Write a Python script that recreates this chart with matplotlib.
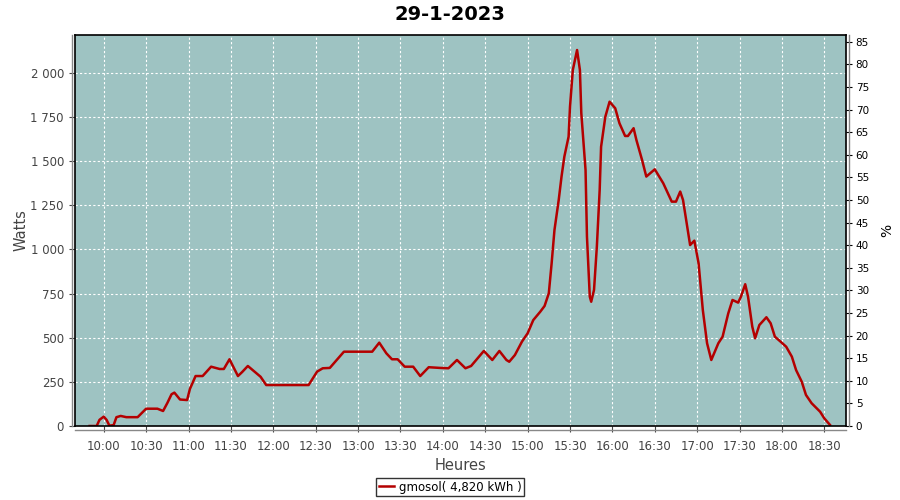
import pandas as pd
import matplotlib
matplotlib.use("Agg")
import matplotlib.pyplot as plt
import matplotlib.dates as mdates
from matplotlib.ticker import FuncFormatter, MultipleLocator
from matplotlib.lines import Line2D

# production du 29-1-2023
heures = ["09:50", "09:55", "09:57", "10:00", "10:02", "10:04", "10:07", "10:09", "10:12", "10:16",
          "10:21", "10:24", "10:30", "10:38", "10:42", "10:45", "10:48", "10:50", "10:54", "10:59",
          "11:01", "11:05", "11:10", "11:16", "11:22", "11:25", "11:29", "11:32", "11:35", "11:38",
          "11:42", "11:47", "11:51", "11:55", "12:25", "12:31", "12:35", "12:40", "12:46", "12:50",
          "13:10", "13:15", "13:20", "13:24", "13:28", "13:33", "13:39", "13:44", "13:50", "13:58",
          "14:04", "14:10", "14:16", "14:20", "14:29", "14:35", "14:40", "14:45", "14:47", "14:51",
          "14:56", "15:00", "15:04", "15:09", "15:12", "15:15", "15:17", "15:19", "15:22", "15:24",
          "15:26", "15:29", "15:30", "15:32", "15:35", "15:37", "15:38", "15:41", "15:42", "15:44",
          "15:45", "15:47", "15:49", "15:51", "15:52", "15:55", "15:58", "16:02", "16:05", "16:09",
          "16:11", "16:15", "16:17", "16:21", "16:24", "16:30", "16:36", "16:42", "16:45", "16:48",
          "16:50", "16:53", "16:55", "16:58", "17:01", "17:04", "17:07", "17:10", "17:11", "17:15",
          "17:18", "17:22", "17:25", "17:29", "17:31", "17:34", "17:36", "17:39", "17:41", "17:44",
          "17:49", "17:52", "17:55", "17:59", "18:03", "18:07", "18:10", "18:14", "18:17", "18:21",
          "18:27", "18:30", "18:34"]
watts = [0, 0, 35, 53, 35, 2, 5, 50, 57, 50,
         50, 50, 98, 98, 85, 130, 180, 189, 150, 147,
         210, 283, 283, 336, 323, 323, 378, 330, 283, 306,
         340, 306, 279, 232, 232, 308, 327, 329, 384, 421,
         421, 472, 412, 378, 378, 336, 336, 283, 333, 329,
         327, 374, 327, 340, 425, 374, 425, 374, 364, 402,
         478, 525, 600, 648, 680, 752, 922, 1110, 1280, 1413,
         1526, 1639, 1809, 2017, 2130, 2017, 1772, 1450, 1073, 733,
         704, 771, 1016, 1337, 1582, 1752, 1837, 1800, 1715, 1643,
         1643, 1687, 1620, 1507, 1413, 1454, 1375, 1271, 1271, 1328,
         1280, 1129, 1025, 1050, 922, 657, 469, 374, 393, 469,
         506, 638, 714, 699, 733, 803, 733, 563, 497, 572,
         616, 582, 506, 478, 449, 393, 317, 251, 176, 129,
         81, 43, 6]

jour = "2023-01-29"
t = pd.to_datetime([jour + " " + h for h in heures])

fig = plt.figure(figsize=(9, 5), dpi=100)
ax = fig.add_axes([75/900, 74/500, 771/900, 391/500])
ax.set_facecolor("#9ec3c2")

ax.plot(t, watts, color="#b40000", lw=1.8, label="gmosol( 4,820 kWh )")

ax.set_xlim(pd.Timestamp(jour + " 09:39:40"), pd.Timestamp(jour + " 18:45:20"))
ax.set_ylim(0, 2215)
ax.xaxis.set_major_locator(mdates.MinuteLocator(byminute=[0, 30]))
ax.xaxis.set_major_formatter(mdates.DateFormatter("%H:%M"))
ax.yaxis.set_major_locator(MultipleLocator(250))
ax.yaxis.set_major_formatter(FuncFormatter(lambda v, p: f"{v:,.0f}".replace(",", " ")))

ax.grid(True, color="white", ls=(0, (2, 2)), lw=0.8)
for s in ax.spines.values():
    s.set_color("black")
    s.set_linewidth(1.2)
ax.tick_params(colors="#444444", labelsize=8.5, length=4, pad=4)
ax.tick_params(axis="x", pad=6)

ax.set_ylabel("Watts", fontsize=10.5, color="#444444", labelpad=1)
ax.set_xlabel("Heures", fontsize=10.5, color="#444444", labelpad=4)
fig.text(0.5, 0.972, "29-1-2023", ha="center", va="center", fontsize=14, fontweight="bold")

ax2 = ax.twinx()
ax2.set_ylim(0, 86.5)
ax2.yaxis.set_major_locator(MultipleLocator(5))
ax2.tick_params(colors="black", labelsize=7.5, length=4, pad=3)
ax2.set_ylabel("%", fontsize=10, labelpad=8)
for s in ax2.spines.values():
    s.set_visible(False)

# axes décalées façon JFreeChart
fig.add_artist(Line2D([72/900, 72/900], [74/500, 465/500], color="#888888", lw=1))
fig.add_artist(Line2D([75/900, 846/900], [70/500, 70/500], color="#888888", lw=1))
fig.add_artist(Line2D([849/900, 849/900], [74/500, 465/500], color="#888888", lw=1))

leg = fig.legend(loc="lower center", bbox_to_anchor=(0.5, 0.0), fontsize=8.5,
                 fancybox=False, edgecolor="black", handlelength=1.3, handletextpad=0.4,
                 borderpad=0.25, borderaxespad=0.3)
leg.get_frame().set_linewidth(1)

fig.savefig("out.png", dpi=100)
